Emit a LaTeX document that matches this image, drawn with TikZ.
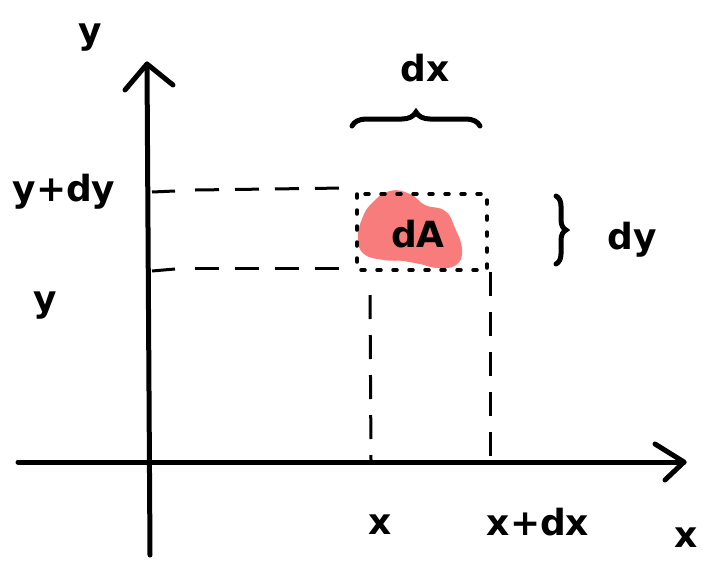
\documentclass[tikz,border=0pt]{standalone}
\usepackage{fontspec}
\setmainfont{DejaVu Sans}
\usetikzlibrary{decorations.pathreplacing}
\definecolor{blobred}{HTML}{F87C7C}
\tikzset{
  axis/.style={line width=5pt, line cap=round, line join=round},
  dashline/.style={line width=3pt, dash pattern=on 24pt off 16pt},
  dotline/.style={line width=3.5pt, line cap=round, dash pattern=on 4pt off 12pt},
  lbl/.style={font=\bfseries\fontsize{36}{38}\selectfont, inner sep=0pt},
  bracestyle/.style={line width=5pt, line cap=round, decorate, decoration={brace, amplitude=14pt}}
}
\begin{document}
\begin{tikzpicture}[x=1pt,y=-1pt]
\useasboundingbox (0,0) rectangle (710,560);
% axes
\coordinate (yb) at (150,555);
\coordinate (yt) at (147,64);
\coordinate (xl) at (18,462);
\coordinate (xr) at (684,462);
\draw[axis] (yb) -- (yt);
\draw[axis] (125,90) -- (yt) -- (173,85);
\draw[axis] (xl) -- (xr);
\draw[axis] (655,444) -- (xr) -- (665,480);
% red blob
\fill[blobred] plot[smooth cycle, tension=0.8] coordinates {(372,203) (390,191) (410,194) (425,205) (445,211) (455,228) (462,250) (456,265) (438,268) (420,264) (404,261) (384,260) (364,254) (358,238) (362,219)};
% dotted rectangle
\coordinate (r1) at (357,194);
\coordinate (r2) at (487,270);
\draw[dotline] (r1) rectangle (r2);
% dashed guides
\coordinate (ya) at (152,192);
\coordinate (yd) at (152,271);
\draw[line width=3pt] (ya) -- (175,191);
\draw[line width=3pt] (yd) -- (175,269);
\draw[dashline] (195,190) -- (345,188);
\draw[dashline] (195,268) -- (340,268);
\draw[dashline] (370,295) -- (371,460);
\draw[dashline] (490,272) -- (490,460);
% braces
\draw[bracestyle] (352,126) -- (480,126);
\draw[line width=5pt, line cap=round, decorate, decoration={brace, amplitude=10pt}] (556,196) -- (556,264);
% labels
\node[lbl] (ylab) at (90,38) {y};
\node[lbl] (xlab) at (686,538) {x};
\node[lbl] (ydy) at (64,192) {y+dy};
\node[lbl] (y0) at (45,306) {y};
\node[lbl] (x0) at (380,525) {x};
\node[lbl] (xdx) at (538,522) {x+dx};
\node[lbl] (dxl) at (425,68) {dx};
\node[lbl] (dyl) at (632,240) {dy};
\node[lbl] (dA) at (418,234) {dA};
\end{tikzpicture}
\end{document}
